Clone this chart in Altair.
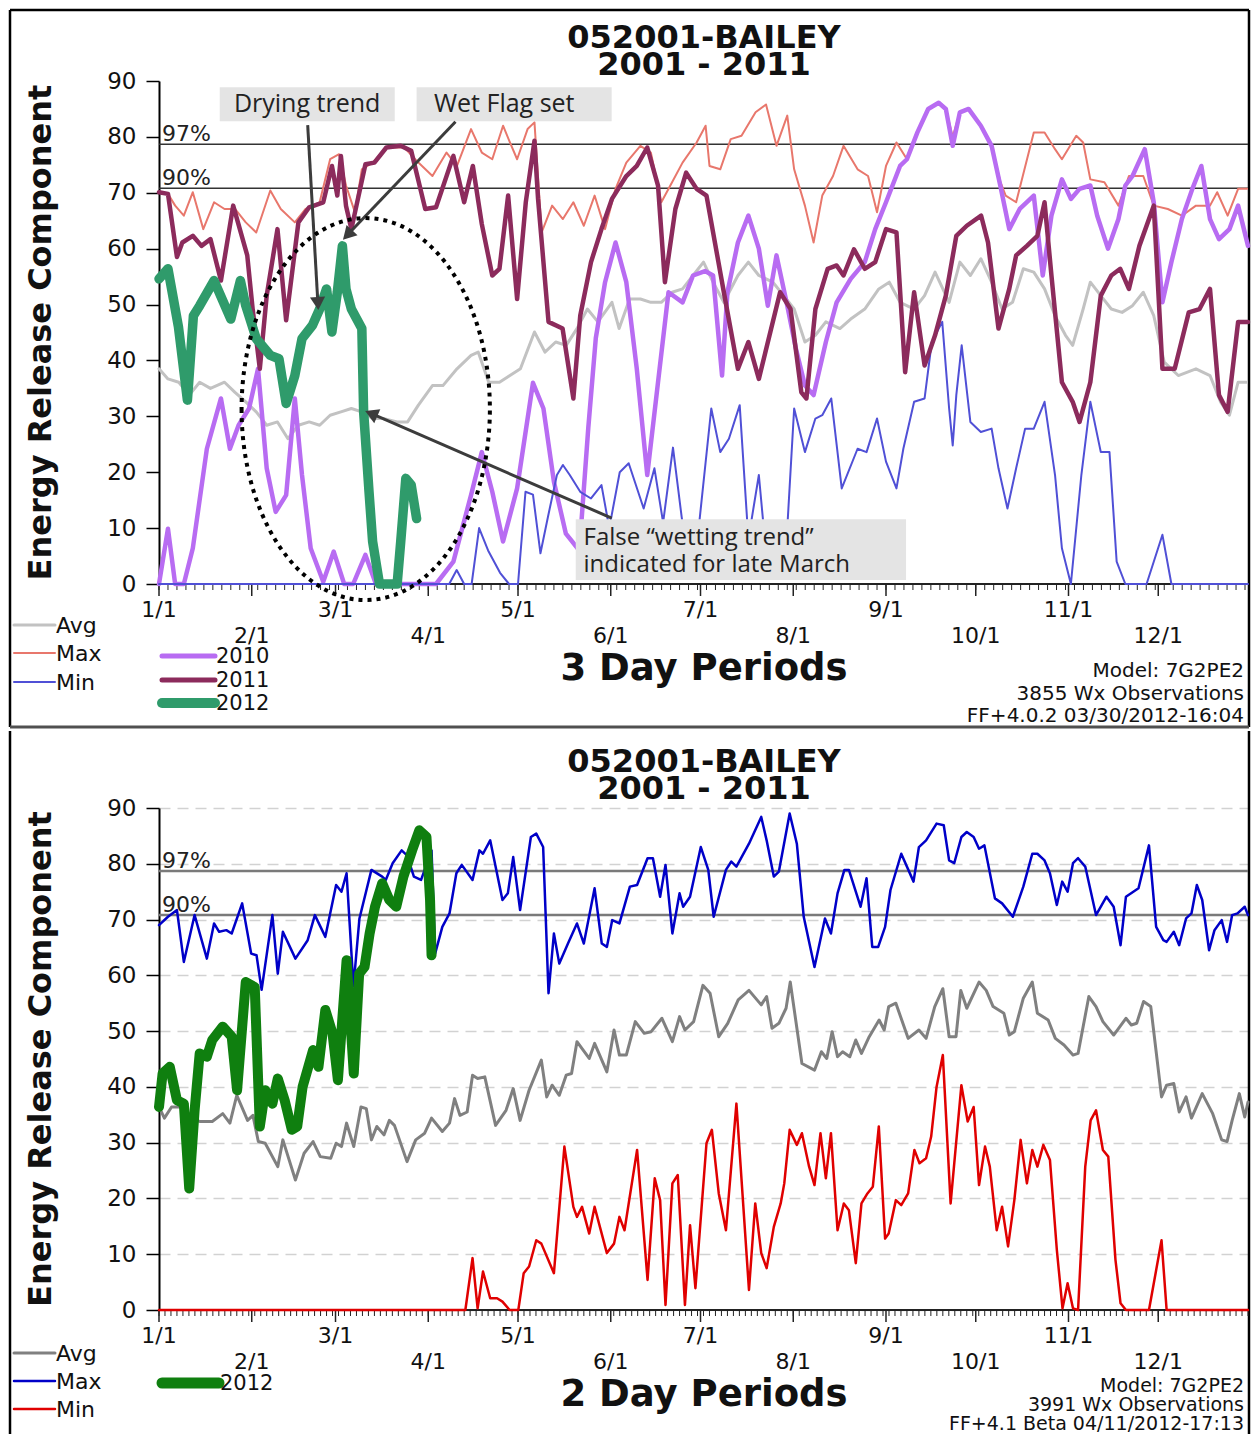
import math
import altair as alt
import pandas as pd

FONT = "DejaVu Sans"
NOTE_FONT = "Open Sans"

TITLE_LINES = ["052001-BAILEY", "2001 - 2011"]
Y_TITLE = "Energy Release Component"
MONTH_LABELS = ["1/1", "2/1", "3/1", "4/1", "5/1", "6/1", "7/1", "8/1", "9/1", "10/1", "11/1", "12/1"]
MONTH_START = [0, 31, 59, 90, 120, 151, 181, 212, 243, 273, 304, 334]
Y_TICKS = [0, 10, 20, 30, 40, 50, 60, 70, 80, 90]
PCT_LABELS = ["97%", "90%"]
PCT_ERC = [78.7, 70.8]

TOP_PERIOD = 3
BOT_PERIOD = 2
TOP_XLABEL = "3 Day Periods"
BOT_XLABEL = "2 Day Periods"
TOP_FOOTER = ["Model: 7G2PE2", "3855 Wx Observations", "FF+4.0.2 03/30/2012-16:04"]
BOT_FOOTER = ["Model: 7G2PE2", "3991 Wx Observations", "FF+4.1 Beta 04/11/2012-17:13"]

# ---------------- top panel (3 day periods): (day of year, ERC) ----------------
TOP_AVG = [(0, 38.5), (3, 36.7), (6.6, 36.1), (10.1, 33.8), (13.6, 36.1), (17.2, 35), (21.9, 36.1), (25.4, 34.3),
           (29, 32.6), (32.5, 30.8), (36, 28.4), (39.6, 29), (43.1, 26), (46.6, 28.4), (50.2, 29), (53.7, 28.4),
           (57.2, 30.2), (60.8, 30.8), (64.3, 31.4), (67.8, 30.8), (71.4, 29.6), (74.9, 29.6), (79.6, 29), (83.1, 29),
           (86.7, 32), (91.4, 35.5), (94.9, 35.5), (99.6, 38.5), (104.3, 40.9), (106.7, 41.5), (110.2, 36.1),
           (113.8, 36.1), (117.3, 37.3), (120.8, 38.5), (125.5, 45.1), (129, 41.5), (132.6, 43.3), (136.1, 42.7),
           (139.7, 45.7), (143.2, 49.2), (146.7, 46.9), (151.4, 50.4), (153.8, 45.7), (157.3, 51), (160.9, 51),
           (164.4, 50.4), (167.9, 50.4), (171.5, 52.2), (175, 52.8), (178.5, 55.2), (182, 57.6), (185.2, 54),
           (188.8, 50.4), (193.5, 55.2), (197, 57.6), (200.5, 55.2), (205.2, 54), (208.8, 51.6), (212.3, 49.2),
           (215.9, 43.3), (219.4, 44.5), (222.9, 46.9), (227.6, 45.7), (231.2, 47.4), (235.9, 49.2), (240.6, 52.8),
           (244.1, 54), (247.7, 50.4), (252.4, 49.2), (255.9, 51.6), (259.4, 55.8), (264.1, 50.4), (267.7, 57.6),
           (271.2, 55.2), (274.7, 58.2), (278.3, 54), (281.8, 49.2), (285.3, 50.4), (288.9, 56.4), (292.4, 55.8),
           (296, 52.8), (299.5, 48), (303, 44.5), (305.4, 42.7), (308.9, 49.2), (311.3, 54), (314.8, 51.6),
           (318.3, 49.2), (321.9, 48.6), (325.4, 49.8), (329, 52.2), (332.5, 48), (336, 39.7), (340.7, 37.3),
           (346.6, 38.5), (351.3, 37.3), (354.8, 32.6), (357.8, 30.2), (360.7, 36.1), (363.5, 36.1)]

TOP_MAX = [(0, 70.1), (3, 69.8), (5.4, 67.7), (8.3, 65.9), (11.3, 70.1), (14.8, 63.5), (18.4, 68.3), (21.9, 67.1),
           (25.4, 67.1), (29, 64.7), (32.5, 62.9), (37.2, 70.4), (40.7, 67.1), (45.4, 64.7), (49, 67.1), (53.7, 68.3),
           (57.2, 76), (60.2, 76.9), (62.5, 71.3), (65.5, 66.5), (67.8, 74.2), (71.4, 75.4), (76, 78.1), (82, 78.1),
           (86.7, 75.4), (91.4, 73), (96.1, 77.2), (99.6, 74.8), (104.3, 81.4), (107.9, 77.2), (111.4, 76),
           (115, 82), (117.3, 79), (119.7, 76), (123.2, 81.4), (125.5, 82.6), (127.9, 62.9), (131.4, 67.7),
           (135, 65.3), (138.5, 68.3), (142, 64.1), (145.6, 69.5), (149.1, 63.5), (152.6, 70.7), (156.2, 75.4),
           (160.9, 78.4), (164.4, 77.2), (167.9, 68.3), (171.5, 71.9), (175, 75.4), (179.7, 79), (182.7, 82),
           (184, 74.8), (187.6, 74.2), (191.1, 79.6), (194.7, 80.2), (199.4, 84.4), (202.9, 85.8), (206.4, 78.4),
           (210, 83.8), (212.3, 74.2), (215.9, 67.7), (218.8, 61.1), (221.7, 69.5), (225.3, 73), (228.8, 78.4),
           (233.5, 74.2), (237, 73), (240, 66.5), (243, 74.8), (246.5, 79), (250, 76), (253.5, 80.8), (257.1, 85),
           (260.6, 86.1), (263, 85), (265.3, 80), (267.7, 84.4), (270.6, 85), (274.7, 82), (278.3, 78.4),
           (281.2, 72), (283, 69.5), (286.5, 68.3), (292.4, 80.8), (296, 80.8), (299.5, 77.8), (301.8, 76),
           (306.6, 80.2), (308.9, 79), (311.3, 72.4), (316, 71.9), (320.7, 67.7), (324.2, 73), (329, 73),
           (332.5, 67.7), (337.2, 67.1), (341.9, 65.9), (346.6, 67.7), (351.3, 67.7), (353.7, 70.1), (357.2, 65.9),
           (360.7, 70.7), (363.7, 70.7)]

TOP_MIN = [(0, 0), (97, 0), (99.5, 2.5), (102, 0), (104.5, 0), (107, 10), (110, 6), (114, 2), (117, 0), (120, 0),
           (122.5, 16.5), (125, 16), (127.5, 5.5), (130, 12), (133, 19.5), (135, 21.3), (137.3, 19.5),
           (140.8, 16.5), (144.4, 15.3), (147.9, 17.7), (150.5, 10), (154, 20), (157, 21.6), (162, 13.5),
           (165.6, 20.7), (168.5, 11), (171.8, 24.4), (174.7, 12), (177, 3), (180, 8), (184.6, 31.4), (187.6, 23.6),
           (190.5, 26), (194.1, 32), (197, 8), (200.5, 19.5), (203, 5), (207, 2), (210, 10), (212.3, 31.4),
           (215.9, 23.6), (219.4, 29.6), (221.7, 30.2), (224.7, 33.2), (228.2, 17.1), (233.5, 24.2), (236.5, 23.6),
           (240, 29.6), (243, 21.9), (246.5, 17.1), (248.8, 24.2), (252.4, 32.6), (255.9, 33.2), (258.3, 43.3),
           (261.8, 46.9), (264.1, 31.4), (265.3, 24.8), (266.5, 33.8), (268.3, 42.7), (271.2, 29), (274.7, 27.2),
           (278.3, 27.8), (280.6, 20.7), (283.6, 13.5), (286.5, 20.7), (289.5, 27.8), (292.4, 27.8), (296, 32.6),
           (299.5, 19.5), (301.8, 6.4), (304.8, 0), (308.3, 19.5), (311.3, 32.6), (314.8, 23.6), (317.7, 23.6),
           (320.1, 4), (323, 0), (330.1, 0), (335.4, 8.8), (338.4, 0), (364, 0)]

TOP_2010 = [(0, 0), (3, 9.9), (5.4, 0), (8.3, 0), (11.3, 6.4), (16, 24.2), (20.7, 33.2), (23.7, 24.2), (26.6, 28.4),
            (30.1, 31.4), (33.1, 38.5), (36, 20.7), (39, 12.9), (42.5, 15.9), (45.4, 33.2), (47.8, 19.5),
            (50.7, 6.4), (54.9, 0.4), (58.4, 5.8), (61.9, 0), (64.9, 0), (69, 5.2), (72.5, 0), (92.6, 0), (98.4, 4),
            (104.3, 15.9), (107.9, 23.6), (111.4, 16.5), (115, 7.6), (119.7, 17.1), (125, 36), (128.5, 31.4),
            (132, 18.3), (136, 9), (140.5, 6), (143.5, 28), (146, 44), (149.1, 54), (152.6, 61.1), (156.2, 54),
            (159.7, 38.5), (163.2, 19.5), (166.8, 36.1), (170.3, 52.2), (175, 50.4), (178.5, 55.2), (182.5, 56),
            (185.2, 55.2), (188.2, 37.3), (190, 52.2), (193.5, 61.1), (197, 65.9), (200.5, 60), (203.5, 49.8),
            (206.4, 58.8), (210, 49.8), (212.9, 42.1), (215.9, 35.5), (218.8, 33.8), (222.9, 43.3), (226.5, 50.4),
            (231.2, 54.6), (235.9, 57.6), (239.4, 63.5), (243, 68.3), (247.7, 74.8), (250, 76), (253.5, 80.8),
            (257.1, 85), (260.6, 86.1), (263, 85), (265.3, 78.4), (267.7, 84.4), (270.6, 85), (274.7, 82),
            (278.3, 78.4), (281.2, 71.3), (284.2, 63.5), (287.7, 67.1), (292.4, 69.5), (295.4, 55.2), (298.3, 65.9),
            (301.8, 72.4), (304.8, 68.9), (307.7, 70.7), (311.3, 71.3), (313.6, 65.9), (317.2, 60), (320.7, 65.3),
            (323, 71.3), (325.4, 73), (329.5, 77.8), (332.5, 68.3), (335.4, 50.4), (338.4, 57.6), (341.9, 65.3),
            (345.4, 70.7), (348.4, 74.8), (351.3, 65.3), (354.3, 61.7), (357.8, 63.5), (360.7, 67.7), (364, 60.5)]

TOP_2011 = [(0, 70.1), (3, 69.8), (6, 58.5), (7.8, 61.1), (11.3, 62.3), (14.2, 60.5), (17.2, 61.7), (20.7, 54.3),
            (24.8, 67.7), (29.5, 58.8), (31.3, 49.2), (33.7, 38.5), (36, 51.6), (39.6, 63.5), (42.5, 47.2),
            (46.6, 64.7), (50.2, 67.4), (54.9, 68.3), (57.8, 74.8), (59.6, 69.5), (60.8, 76.6), (62.5, 67.7),
            (64.3, 63.5), (66, 67.7), (69, 75.1), (72, 75.4), (76, 78.1), (80.8, 78.4), (84.3, 77.5), (89, 67.1),
            (92.6, 67.4), (98.4, 76.6), (102, 68.3), (104.9, 74.8), (107.9, 64.4), (111.4, 55.2), (113.8, 56.4),
            (116.7, 69.5), (119.7, 51), (122.6, 68.3), (125.5, 79.3), (126.7, 68.9), (130.2, 46.9), (134.9, 45.7),
            (138.5, 33.2), (140.8, 48), (144.4, 57.6), (147.9, 63.5), (151.4, 68.9), (156.2, 73), (159.7, 74.8),
            (163.2, 78.1), (166.8, 71.3), (169.1, 54), (172.6, 67.1), (176.2, 73.6), (179.7, 70.7), (183, 69.5),
            (188.8, 52.2), (193.5, 38.5), (197, 43.3), (200.5, 36.7), (207.6, 52.2), (211.1, 49.2), (214.7, 34.3),
            (216.4, 33.2), (219.4, 49.2), (223.5, 56.4), (226.5, 57), (228.8, 55.2), (232.3, 59.9), (235.9, 56.4),
            (239.4, 57.6), (243, 63.5), (246.5, 62.9), (249.4, 37.9), (252.4, 52.2), (255.9, 39.1), (259.4, 44.5),
            (263, 51.6), (266.5, 62.3), (270, 64.1), (274.8, 65.9), (277.1, 61.1), (280.6, 45.7), (284.2, 52.8),
            (286.5, 58.8), (290.1, 60.5), (293.6, 62.3), (296, 68.3), (298.3, 55.2), (301.8, 36.1), (305.4, 32.6),
            (307.7, 29), (311.3, 36.1), (314.8, 51.6), (318.3, 55.2), (321.3, 56.4), (324.2, 52.8), (327.7, 60.5),
            (332.5, 67.7), (335.4, 38.5), (339.5, 38.5), (344.2, 48.6), (347.8, 49.2), (351.3, 52.8), (354.3, 33.8),
            (357.2, 30.8), (360.7, 46.9), (364, 46.9)]

TOP_2012 = [(0, 54.6), (3, 56.4), (6.5, 46), (9.5, 32.9), (11.5, 48), (13.6, 49.8), (18.4, 54.3), (24, 47.4),
            (27.2, 54.3), (29, 49.8), (32.5, 43.9), (37.2, 40.9), (40.1, 40.3), (42.5, 32.3), (45.4, 37.3),
            (47.8, 43.9), (51.3, 46.3), (53.7, 49.2), (56, 52.8), (57.8, 45.1), (59.6, 52.2), (61.3, 60.5),
            (62.5, 52.8), (64.3, 49.2), (67.8, 45.7), (68.4, 30.8), (70.2, 16.5), (71.4, 7.6), (73.7, 0), (79.6, 0),
            (80.8, 7.6), (82.5, 18.9), (84.3, 17.7), (86.1, 11.7)]

# ---------------- bottom panel (2 day periods) ----------------
BOT_AVG = [(0, 36.4), (1.8, 34.4), (4.2, 36.4), (7.1, 36.4), (10.7, 34.6), (13.6, 33.8), (17.8, 33.8), (21.3, 35.2),
           (23.7, 33.5), (26, 38.5), (29.6, 34), (31.4, 34.9), (33.2, 30.2), (35.5, 29.9), (39.7, 25.7), (41.4, 30.5),
           (45.6, 23.3), (48.5, 28.1), (51.5, 30.2), (53.9, 27.5), (57.4, 27.2), (59.2, 29.9), (61, 29.3),
           (62.7, 33.5), (65.1, 29.3), (67.5, 36.4), (69.3, 36.1), (71, 30.5), (72.8, 32.9), (75.2, 31.4), (77, 34),
           (78.7, 33.1), (82.9, 26.6), (85.8, 30.5), (88.8, 31.7), (91.1, 34.4), (94.7, 32), (97.1, 33.5),
           (98.8, 37.9), (100.6, 34.9), (103, 35.5), (104.8, 42.1), (106.5, 41.5), (108.9, 41.8), (112.5, 33.1),
           (116, 35.8), (118.4, 39.7), (120.7, 34), (123.7, 39.4), (127.8, 44.8), (129.6, 38.2), (131.4, 40.3),
           (133.8, 38.5), (136.1, 42.1), (137.9, 42.4), (139.7, 48.1), (143.8, 45.1), (145.6, 47.8), (149.7, 42.7),
           (152.1, 50.2), (153.9, 45.7), (156.2, 45.7), (159.2, 51.7), (162.2, 49.6), (164.5, 49.9), (168.1, 52.3),
           (171.6, 48.1), (174, 52.6), (175.8, 50.2), (178.7, 51.7), (181.8, 58.2), (184.2, 56.8), (187.1, 49),
           (190.1, 51.4), (193.6, 55.6), (197.2, 57.3), (201.3, 54.7), (203.1, 56.2), (204.9, 50.5), (207.2, 51.4),
           (209.6, 54.1), (211, 58.8), (214.9, 44.2), (219.1, 43), (221.4, 46.3), (223.2, 45.1), (225, 49.9),
           (226.8, 45.4), (228.5, 46.3), (230.9, 45.4), (232.9, 48.4), (234.8, 46), (237.4, 49), (240.7, 52),
           (242.4, 50.2), (243.9, 54.4), (246.3, 55), (250.4, 48.7), (254, 50.2), (256.4, 48.7), (259.3, 54.4),
           (262, 57.6), (264.1, 49), (266.4, 49), (268, 57.3), (270, 54.1), (274.1, 58.8), (276.5, 57.3),
           (278.8, 54.4), (282.4, 53.2), (284.2, 49.3), (285.9, 49.9), (288.9, 55.9), (291.9, 58.8), (293.6, 53.2),
           (297.2, 52), (299.6, 48.7), (302.5, 47.5), (305.5, 45.7), (307.2, 46), (310.8, 56.2), (313.2, 54.4),
           (315.5, 51.7), (319.1, 49.3), (323.2, 52.3), (325, 51.1), (326.8, 51.4), (329.1, 55.3), (331.5, 54.4),
           (335.1, 38.2), (336.8, 40.3), (339.2, 40.6), (341, 35.5), (343.3, 38.2), (345.1, 34.4), (348.7, 38.8),
           (352.2, 35.2), (355.2, 30.5), (357, 30.2), (358.7, 34), (361.1, 38.8), (362.9, 34.6), (364, 37.3)]

BOT_MAX = [(0, 69), (3, 70.5), (6, 71.7), (8.3, 62.4), (11.9, 70.8), (16, 63), (18.4, 69.3), (20.1, 67.8),
           (22.5, 68.1), (24.3, 67.5), (27.8, 72.9), (30.8, 63.9), (32.6, 63.6), (34.3, 57.4), (37.9, 70.8),
           (39.7, 60.3), (41.4, 67.8), (45.6, 63), (49.7, 66.3), (52.1, 70.8), (55.6, 66.9), (59.2, 76.2), (61, 75),
           (62.7, 78.3), (65, 58), (67, 70.2), (71, 78.9), (74.6, 77.7), (75.8, 77.1), (78.1, 80.1), (81.1, 82.4),
           (82.9, 81.5), (85.2, 77.7), (87.6, 77.1), (91.1, 82.4), (92.3, 63.9), (94.7, 68.7), (97.1, 71.1),
           (99.4, 78.3), (101.2, 79.8), (104.8, 77.1), (107.1, 82.4), (108.3, 81.8), (110.7, 84.2), (114.8, 73.5),
           (116.6, 74.7), (118.4, 81.2), (120.7, 71.7), (124.3, 84.8), (126.1, 85.4), (128.4, 83), (130.2, 56.8),
           (132, 67.5), (133.8, 62.1), (136.7, 65.7), (139.7, 69.3), (142, 65.7), (145.6, 75.6), (148, 65.7),
           (149.7, 65.1), (151.5, 69.9), (153.9, 69.3), (157.4, 75.9), (159.8, 76.2), (163.3, 81), (165.1, 81),
           (167.5, 74.1), (169.3, 79.8), (171.6, 67.5), (174, 74.7), (175.2, 72.3), (177.5, 74.1), (181.1, 83),
           (183.6, 78.9), (185.4, 70.5), (189.5, 78.9), (191.3, 80.4), (193, 79.5), (197.2, 83.6), (201.3, 88.4),
           (203.1, 84.2), (205.5, 77.7), (207.2, 78.6), (210.8, 89), (213.2, 83.6), (215.5, 70.5), (219.1, 61.5),
           (222.6, 70.2), (224.6, 67.5), (226.8, 74.7), (229.1, 78.9), (230.6, 78.9), (234.5, 72.3), (236.5, 77.4),
           (238.4, 65.1), (240.4, 65.1), (242.7, 68.7), (244.5, 75.3), (248.1, 81.8), (252.2, 76.8), (254, 83),
           (256.4, 84.2), (259.9, 87.2), (262.3, 86.9), (264.1, 80.6), (265.8, 80.1), (268.2, 84.8), (270, 85.7),
           (272.3, 84.8), (274.1, 82.7), (275.9, 83.3), (279.4, 73.8), (281.8, 72.9), (285.4, 70.5), (288.9, 75.9),
           (291.9, 81.8), (293.6, 81.8), (296, 80.6), (297.8, 78.3), (300.1, 72.6), (301.9, 76.8), (303.7, 75),
           (305.5, 80.1), (307.2, 81), (309.6, 79.5), (313.2, 70.8), (316.7, 74.1), (319.1, 72.3), (321.4, 65.4),
           (323.2, 74.1), (327.4, 75.6), (330.9, 83.3), (333.3, 68.7), (335.7, 66.3), (336.8, 66), (339.2, 67.8),
           (341, 65.4), (343.3, 70.2), (345.1, 71.1), (346.9, 76.2), (348.7, 73.5), (351, 64.5), (352.8, 68.1),
           (355.2, 69.9), (357, 66), (358.7, 70.8), (360.5, 71.1), (362.9, 72.3), (364, 70.8)]

BOT_MIN = [(0, 0), (102.4, 0), (104.8, 9.3), (106.5, 0.3), (108.3, 6.9), (110.7, 2.1), (113, 2.1), (114.8, 1.5),
           (117.2, 0), (120.1, 0), (121.9, 6.6), (123.7, 7.8), (126.1, 12.5), (127.8, 11.9), (132, 6.6),
           (135.5, 29.3), (138.5, 18.5), (139.7, 16.7), (141.4, 18.5), (143.8, 13.7), (145.6, 18.5), (149.7, 10.2),
           (152.1, 11.9), (153.9, 16.7), (155.6, 14.3), (159.8, 28.7), (163.3, 5.4), (165.7, 23.6), (167.5, 19.7),
           (169.3, 0.9), (171.6, 22.7), (173.4, 24.2), (175.8, 0.9), (177.5, 15.2), (179.3, 3.9), (183, 29.9),
           (184.8, 32.3), (187.1, 20.9), (189.5, 14.3), (193, 37), (197.2, 3.6), (199.3, 19.1), (201.3, 10.2),
           (203.1, 7.5), (205.5, 14.9), (207.8, 19.1), (209, 22.7), (210.8, 32.3), (213.2, 29.6), (214.9, 31.7),
           (217.3, 25.7), (219.1, 22.4), (221.1, 31.7), (222.9, 23.6), (224.6, 31.7), (226.8, 14.3), (228.9, 19.1),
           (230.6, 17.9), (232.9, 8.4), (234.8, 19.1), (236.8, 20.9), (238.6, 22.1), (240.6, 32.9), (242.7, 12.8),
           (243.9, 13.7), (246.3, 19.7), (248.1, 18.8), (250.4, 20.9), (252.5, 28.7), (254.2, 26.3), (256.4, 27.2),
           (258.1, 31.1), (259.9, 40), (262, 45.7), (264.6, 19.1), (268.2, 40.3), (270.3, 33.8), (272.3, 36.4),
           (274.1, 22.4), (276.1, 29.3), (277.7, 25.7), (280, 14.3), (281.8, 18.5), (283.8, 11.4), (285.9, 19.7),
           (288, 30.5), (290.1, 22.7), (291.9, 28.7), (293.6, 25.7), (295.6, 29.6), (297.8, 26.9), (300.1, 10.8),
           (302, 0.3), (303.7, 4.8), (305.5, 0.3), (307.2, 0), (309.6, 25.7), (311.4, 34), (313.2, 35.8),
           (315.5, 28.7), (317.3, 27.5), (319.7, 9), (321.4, 1.2), (323.2, 0), (330.9, 0), (335.1, 12.5),
           (336.8, 0), (364, 0)]

BOT_2012 = [(0, 36.4), (1.2, 42.4), (3.6, 43.6), (6, 37.6), (8.3, 37), (10.1, 21.8), (11.9, 35.8), (13.6, 46),
            (16, 45.4), (17.8, 48.4), (21.3, 50.8), (24.3, 49), (26.1, 39.4), (29, 58.8), (32, 57.9), (33.7, 32.9),
            (35.5, 39.4), (37.9, 37), (39.7, 41.5), (42, 37.6), (44.4, 32.3), (46.2, 32.9), (48, 40), (51.5, 46.6),
            (53.3, 43.6), (55.6, 53.8), (58, 49.6), (59.8, 41.2), (62.7, 62.7), (65.1, 42.4), (66.9, 60.3),
            (68.7, 61.5), (70.4, 67.5), (72.2, 72.3), (74.6, 76.5), (77, 73.5), (79.3, 72.3), (81.7, 77.7),
            (84.6, 82.4), (87, 86), (89.4, 84.8), (90.6, 73.5), (91.1, 63.6)]

# ---------------- annotations (top panel, data coordinates) ----------------
NOTE_LABELS = ["Drying trend", "Wet Flag set"]
NOTE_DAY = [49.5, 115.4]
NOTE_ERC = [85.9, 85.9]
NOTE_BOX_DAY0 = [20.3, 86.1, 139.3]
NOTE_BOX_DAY1 = [78.8, 151.3, 249.7]
NOTE_BOX_ERC0 = [82.8, 82.8, 0.7]
NOTE_BOX_ERC1 = [88.9, 88.9, 11.6]
FALSE_LINES = ["False \u201cwetting trend\u201d", "indicated for late March"]
FALSE_DAY = [141.9, 141.9]
FALSE_ERC = [8.2, 3.4]
ARROW_TAIL_DAY = [49.7, 99.1, 151.3]
ARROW_TAIL_ERC = [82.1, 82.7, 11.8]
ARROW_TIP_DAY = [53.2, 62.0, 69.6]
ARROW_TIP_ERC = [49.4, 61.9, 30.8]
ELLIPSE_DAY = [69.1]
ELLIPSE_ERC = [31.3]

ONE = pd.DataFrame({"k": [0]})


def xenc(field="day"):
    return alt.X(f"{field}:Q", scale=alt.Scale(domain=[0, 364], nice=False, zero=False), axis=None)


def yenc(grid, field="erc"):
    return alt.Y(f"{field}:Q", scale=alt.Scale(domain=[0, 90], nice=False),
                 axis=alt.Axis(values=Y_TICKS, title=None, grid=grid, gridColor="#d2d2d2", gridDash=[11, 7],
                               gridWidth=1.5, domainColor="black", domainWidth=2, tickColor="black",
                               tickWidth=1.5, tickSize=13, labelFont=FONT, labelFontSize=23,
                               labelColor="#111", labelPadding=10))


def series_layer(pairs, color, width, grid):
    df = pd.DataFrame(pairs, columns=["day", "erc"])
    return alt.Chart(df).mark_line(color=color, strokeWidth=width, strokeJoin="round",
                                   strokeCap="round").encode(x=xenc(), y=yenc(grid))


def text_at(label, x, y, size, bold=False, align="center", baseline="alphabetic", angle=0, font=FONT):
    df = pd.DataFrame({"label": [label]})
    kw = dict(font=font, fontSize=size, align=align, baseline=baseline, color="#111")
    if bold:
        kw["fontWeight"] = "bold"
    if angle:
        kw["angle"] = angle
    return alt.Chart(df).mark_text(**kw).encode(x=alt.value(x), y=alt.value(y), text="label:N")


def hrule(x0, x1, y, color, width):
    return alt.Chart(ONE).mark_rule(color=color, strokeWidth=width).encode(
        x=alt.value(x0), x2=alt.value(x1), y=alt.value(y))


def vrule(x, y0, y1, color, width):
    return alt.Chart(ONE).mark_rule(color=color, strokeWidth=width).encode(
        x=alt.value(x), y=alt.value(y0), y2=alt.value(y1))


def legend_entry(label, color, width, x0, x1, y, size):
    df = pd.DataFrame({"label": [label]})
    ln = alt.Chart(df).mark_rule(color=color, strokeWidth=width, strokeCap="round").encode(
        x=alt.value(x0), x2=alt.value(x1), y=alt.value(y))
    tx = alt.Chart(df).mark_text(font=FONT, fontSize=size, align="left", baseline="middle", color="#111").encode(
        x=alt.value(x1 + 1), y=alt.value(y + 1), text="label:N")
    return [ln, tx]


def axis_parts(W, H, step, grid, pct_color, pct_width):
    layers = []
    pct = pd.DataFrame({"erc": PCT_ERC, "label": PCT_LABELS})
    layers.append(alt.Chart(pct).mark_rule(color=pct_color, strokeWidth=pct_width).encode(
        y=yenc(grid), x=alt.value(0), x2=alt.value(W)))
    layers.append(alt.Chart(pct).mark_text(font=FONT, fontSize=22, align="left", baseline="alphabetic",
                                           dy=-3, color="#222").encode(x=alt.value(3), y=yenc(grid), text="label:N"))
    layers.append(hrule(0, W, H, "#222", 2))
    minor = pd.DataFrame({"day": list(range(0, 365, step))})
    major = pd.DataFrame({"day": MONTH_START})
    layers.append(alt.Chart(minor).mark_rule(color="#222", strokeWidth=1).encode(
        x=xenc(), y=alt.value(H), y2=alt.value(H + 6)))
    layers.append(alt.Chart(major).mark_rule(color="#222", strokeWidth=1.5).encode(
        x=xenc(), y=alt.value(H), y2=alt.value(H + 12)))
    lab = pd.DataFrame({"day": MONTH_START, "label": MONTH_LABELS, "row": [i % 2 for i in range(12)]})
    layers.append(alt.Chart(lab).transform_filter("datum.row == 0").mark_text(
        font=FONT, fontSize=22, baseline="middle", color="#111").encode(x=xenc(), y=alt.value(H + 26), text="label:N"))
    layers.append(alt.Chart(lab).transform_filter("datum.row == 1").mark_text(
        font=FONT, fontSize=22, baseline="middle", color="#111").encode(x=xenc(), y=alt.value(H + 52), text="label:N"))
    return layers


# frame geometry (relative to each plot origin); whole chart must fit 1243 px wide
FL, FR = -149, 1090

# ---------------- top panel ----------------
TW, TH = 1089, 503
top_layers = []
top_layers.append(hrule(FL, FR, -71, "black", 2.5))
top_layers.append(vrule(FL, -71, 646, "black", 2.5))
top_layers.append(vrule(FR, -71, 646, "black", 2.5))
top_layers.append(hrule(FL, FR, 646, "#505050", 3))
top_layers += axis_parts(TW, TH, TOP_PERIOD, False, "#333333", 1.5)
top_layers.append(series_layer(TOP_AVG, "#c2c2c2", 3, False))
top_layers.append(series_layer(TOP_MAX, "#e8776c", 2, False))
top_layers.append(series_layer(TOP_2010, "#b86cf2", 4.5, False))
top_layers.append(series_layer(TOP_MIN, "#5050d6", 2, False))
top_layers.append(series_layer(TOP_2011, "#8c2b5c", 4.5, False))
top_layers.append(series_layer(TOP_2012, "#2f9b6b", 9.5, False))

boxes = pd.DataFrame({"d0": NOTE_BOX_DAY0, "d1": NOTE_BOX_DAY1, "e0": NOTE_BOX_ERC0, "e1": NOTE_BOX_ERC1})
top_layers.append(alt.Chart(boxes).mark_rect(color="#e4e4e4").encode(
    x=xenc("d0"), x2="d1:Q", y=yenc(False, "e0"), y2="e1:Q"))
notes = pd.DataFrame({"day": NOTE_DAY, "erc": NOTE_ERC, "label": NOTE_LABELS})
top_layers.append(alt.Chart(notes).mark_text(font=NOTE_FONT, fontSize=25, baseline="middle", color="#222").encode(
    x=xenc(), y=yenc(False), text="label:N"))
false_df = pd.DataFrame({"day": FALSE_DAY, "erc": FALSE_ERC, "label": FALSE_LINES})
top_layers.append(alt.Chart(false_df).mark_text(font=NOTE_FONT, fontSize=24, align="left", baseline="middle",
                                                color="#222").encode(x=xenc(), y=yenc(False), text="label:N"))

# arrows (heads oriented along the pixel direction of each shaft)
ppd, ppe = TW / 364.0, TH / 90.0
HEAD_SIZE = 230
h = math.sqrt(3) * (math.sqrt(HEAD_SIZE) / 2) / 2
rows = []
for td, te, pd_, pe in zip(ARROW_TAIL_DAY, ARROW_TAIL_ERC, ARROW_TIP_DAY, ARROW_TIP_ERC):
    dx = (pd_ - td) * ppd
    dy = -(pe - te) * ppe
    L = math.hypot(dx, dy)
    ux, uy = dx / L, dy / L
    ang = math.degrees(math.atan2(ux, -uy)) % 360
    hd = pd_ - ux * h / ppd
    he = pe + uy * h / ppe
    rows.append({"day": td, "erc": te, "day2": hd, "erc2": he, "ang": ang})
arrows = pd.DataFrame(rows)
top_layers.append(alt.Chart(arrows).mark_rule(color="#3c3c3c", strokeWidth=3).encode(
    x=xenc(), y=yenc(False), x2="day2:Q", y2="erc2:Q"))
top_layers.append(alt.Chart(arrows).mark_point(shape="triangle", filled=True, size=HEAD_SIZE, color="#3c3c3c",
                                               opacity=1).encode(
    x=xenc("day2"), y=yenc(False, "erc2"), angle=alt.Angle("ang:Q", scale=None)))
ell = pd.DataFrame({"day": ELLIPSE_DAY, "erc": ELLIPSE_ERC})
top_layers.append(alt.Chart(ell).mark_point(
    shape="M -0.65 0 A 0.65 1 0 1 0 0.65 0 A 0.65 1 0 1 0 -0.65 0 Z", size=(2 * 191) ** 2, filled=False,
    color="black", strokeWidth=4, strokeDash=[4, 5], opacity=1).encode(x=xenc(), y=yenc(False)))

top_layers.append(text_at(TITLE_LINES[0], 545, -33, 32, bold=True))
top_layers.append(text_at(TITLE_LINES[1], 545, -6, 32, bold=True))
top_layers.append(text_at(Y_TITLE, -118, TH / 2, 32, bold=True, baseline="middle", angle=270))
top_layers.append(text_at(TOP_XLABEL, 545, 599, 37, bold=True))
for line, yy in zip(TOP_FOOTER, [596, 619, 641]):
    top_layers.append(text_at(line, 1085, yy, 20, align="right"))
for lab_, col, wd, yy in [("Avg", "#c2c2c2", 3, 544), ("Max", "#e8776c", 2, 572), ("Min", "#5050d6", 2, 601)]:
    top_layers += legend_entry(lab_, col, wd, -145, -104, yy, 22)
for lab_, col, wd, yy in [("2010", "#b86cf2", 5, 575), ("2011", "#8c2b5c", 5, 599), ("2012", "#2f9b6b", 10, 622)]:
    top_layers += legend_entry(lab_, col, wd, 3, 56, yy, 21)

top = alt.layer(*top_layers).properties(width=TW, height=TH)

# ---------------- bottom panel ----------------
BW, BH = 1089, 502
bot_layers = []
bot_layers.append(hrule(FL, FR, -76, "white", 2.5))
bot_layers.append(vrule(FL, -77, 626, "black", 2.5))
bot_layers.append(vrule(FR, -77, 626, "black", 2.5))
bot_layers += axis_parts(BW, BH, BOT_PERIOD, True, "#7a7a7a", 2.5)
bot_layers.append(series_layer(BOT_AVG, "#808080", 3, True))
bot_layers.append(series_layer(BOT_MAX, "#0000c8", 2.5, True))
bot_layers.append(series_layer(BOT_MIN, "#e00000", 2.5, True))
bot_layers.append(series_layer(BOT_2012, "#0f7f0f", 10, True))
bot_layers.append(text_at(TITLE_LINES[0], 545, -36, 32, bold=True))
bot_layers.append(text_at(TITLE_LINES[1], 545, -9, 32, bold=True))
bot_layers.append(text_at(Y_TITLE, -118, BH / 2, 32, bold=True, baseline="middle", angle=270))
bot_layers.append(text_at(BOT_XLABEL, 545, 598, 37, bold=True))
for line, yy in zip(BOT_FOOTER, [584, 603, 622]):
    bot_layers.append(text_at(line, 1085, yy, 19, align="right"))
for lab_, col, wd, yy in [("Avg", "#808080", 3, 545), ("Max", "#0000c8", 2.5, 573), ("Min", "#e00000", 2.5, 601)]:
    bot_layers += legend_entry(lab_, col, wd, -145, -104, yy, 22)
bot_layers += legend_entry("2012", "#0f7f0f", 11, 3, 60, 575, 21)

bottom = alt.layer(*bot_layers).properties(width=BW, height=BH)

chart = alt.vconcat(top, bottom, spacing=0).properties(padding=0).configure_view(stroke=None)
chart.save("out.html", embed_options={"renderer": "svg", "actions": False})
